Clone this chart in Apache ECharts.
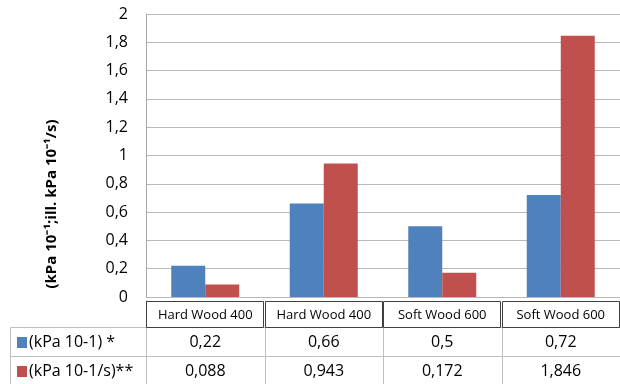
<!DOCTYPE html>
<html><head><meta charset="utf-8">
<script src="https://cdn.jsdelivr.net/npm/echarts@6/dist/echarts.min.js"></script>
<style>html,body{margin:0;padding:0;background:#fff}#c{width:620px;height:384px}</style>
</head><body><div id="c"></div>
<script>
// Wood species / density groups
const categories = ['Hard Wood 400', 'Hard Wood 400', 'Soft Wood 600', 'Soft Wood 600'];
// Series labels shown in the data table
const seriesNames = ['(kPa 10-1) *', '(kPa 10-1/s)**'];
// Pressure values (kPa 10^-1)
const pressure = [0.22, 0.66, 0.5, 0.72];
// Pressure rise rate values (kPa 10^-1/s)
const pressureRate = [0.088, 0.943, 0.172, 1.846];
// Value axis range and step
const yMin = 0, yMax = 2, yStep = 0.2;

const colors = ['#4f81bd', '#c0504d'];
const FONT = 'Open Sans';
const fmt = v => String(+(+v).toFixed(3)).replace('.', ',');

const chart = echarts.init(document.getElementById('c'), null, { renderer: 'canvas' });

chart.setOption({
  animation: false,
  textStyle: { fontFamily: FONT },
  grid: { left: 146, top: 14, width: 481, height: 283, containLabel: false },
  xAxis: {
    type: 'category',
    data: categories,
    axisLabel: { show: false },
    axisTick: { show: false },
    axisLine: { show: false }
  },
  yAxis: {
    type: 'value',
    min: yMin, max: yMax, interval: yStep,
    axisLine: { show: true, lineStyle: { color: '#a6a6a6', width: 1 } },
    axisTick: { show: false },
    splitLine: { lineStyle: { color: '#b8b8b8', width: 1 } },
    axisLabel: { margin: 18, fontSize: 16, color: '#000', fontFamily: FONT, formatter: v => fmt(v) }
  },
  series: [
    { name: seriesNames[0], type: 'bar', data: pressure, barWidth: 34, barGap: '0%', itemStyle: { color: colors[0] } },
    { name: seriesNames[1], type: 'bar', data: pressureRate, barWidth: 34, barGap: '0%', itemStyle: { color: colors[1] } }
  ]
});

// Data table under the plot, aligned to the category axis
const centers = categories.map((c, i) => chart.convertToPixel({ xAxisIndex: 0 }, i));
const band = centers[1] - centers[0];
const elements = [];
const lineGray = '#bfbfbf';
const line = (x1, y1, x2, y2, color) => ({
  type: 'line', shape: { x1, y1, x2, y2 }, style: { stroke: color || lineGray, lineWidth: 1 }, silent: true
});
const text = (x, y, t, opts) => ({
  type: 'text', x, y, silent: true,
  style: Object.assign({ text: t, font: '16px "' + FONT + '"', fill: '#000', align: 'center', verticalAlign: 'middle' }, opts || {})
});

const rowTop = 327.5, rowMid = 356.5, rowBottom = 400;
const tableLeft = 10.5, axisX = 146.5;
elements.push(line(tableLeft, rowTop, 620, rowTop));
elements.push(line(tableLeft, rowMid, 620, rowMid));
elements.push(line(tableLeft, rowTop, tableLeft, rowBottom));
elements.push(line(axisX, 300, axisX, rowBottom));
centers.forEach((cx, i) => {
  const left = cx - band / 2;
  if (i > 0) elements.push(line(Math.round(left) + 0.5, rowTop, Math.round(left) + 0.5, rowBottom));
  elements.push({
    type: 'rect', silent: true,
    shape: { x: Math.round(left) + 0.5, y: 301.5, width: Math.round(band) - 2, height: 26 },
    style: { fill: 'none', stroke: '#404040', lineWidth: 1 }
  });
  elements.push(text(cx, 315, categories[i], { font: '13px "' + FONT + '"' }));
  elements.push(text(cx, 342, fmt(pressure[i])));
  elements.push(text(cx, 371, fmt(pressureRate[i])));
});
// Row headers with colour keys
[342, 371].forEach((y, k) => {
  elements.push({ type: 'rect', silent: true, shape: { x: 17, y: y - 5, width: 10, height: 11 }, style: { fill: colors[k] } });
  elements.push(text(29, y, seriesNames[k], { align: 'left' }));
});
// Value axis title
elements.push({
  type: 'text', silent: true, x: 52, y: 204, rotation: Math.PI / 2,
  style: { text: '(kPa 10\u207B\u00B9;ill. kPa 10\u207B\u00B9/s)', font: 'bold 15px "' + FONT + '"', fill: '#000', align: 'center', verticalAlign: 'middle' }
});

chart.setOption({ graphic: { elements } });
</script>
</body></html>
